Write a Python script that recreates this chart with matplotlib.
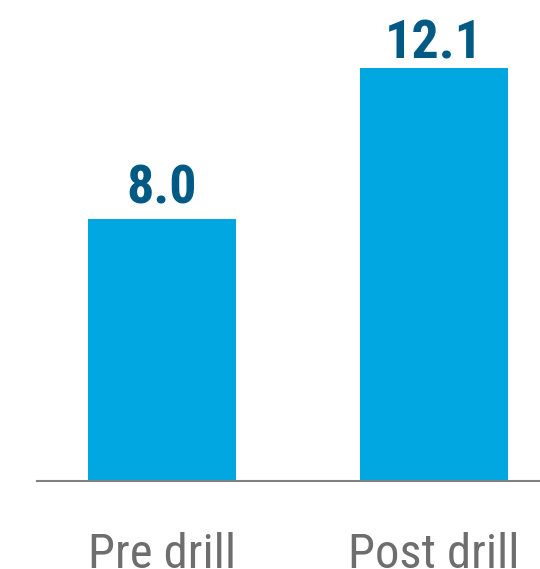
import matplotlib
matplotlib.use("Agg")
import matplotlib.pyplot as plt

categories = ["Pre drill", "Post drill"]
values = [8.0, 12.1]
value_labels = ["8.0", "12.1"]

bar_color = "#00A7E0"
label_color = "#005A84"
tick_color = "#6E6E6E"
font = ["Roboto Condensed", "DejaVu Sans"]
label_offsets_pt = [11.0, 7.0]

fig = plt.figure(figsize=(5.40, 5.69), dpi=100)
ax = fig.add_axes([37/540, (569-480.7)/569, 1-37/540, 480.7/569])

x = list(range(len(categories)))
ax.bar(x, values, width=0.544, color=bar_color, bottom=0)
ax.set_xlim(-0.4596, 1.3897)
ax.set_ylim(0.89, 13.94)

for xi, v, t, off in zip(x, values, value_labels, label_offsets_pt):
    ax.annotate(t, (xi, v), xytext=(0, off), textcoords="offset points",
                ha="center", va="baseline", fontsize=39, fontweight="bold",
                color=label_color, family=font)

ax.set_xticks(x)
ax.set_xticklabels(categories, fontsize=35, color=tick_color, family=font)
for lbl in ax.get_xticklabels():
    lbl.set_verticalalignment("baseline")
ax.tick_params(axis="x", length=0, pad=63)
ax.set_yticks([])
for s in ["top", "right", "left"]:
    ax.spines[s].set_visible(False)
ax.spines["bottom"].set_color("#808080")
ax.spines["bottom"].set_linewidth(1.5)

fig.savefig("out.png", dpi=100)
